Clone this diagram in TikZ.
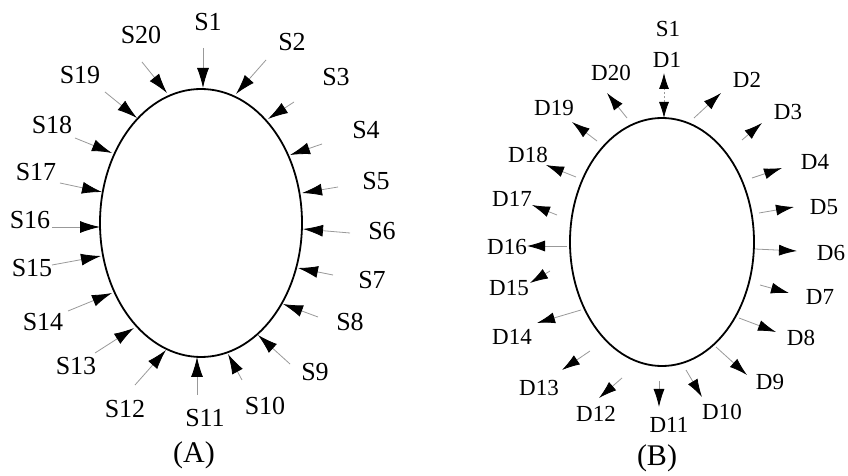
\documentclass[tikz,border=0pt]{standalone}
\usepackage{fontspec}
\setmainfont{Liberation Serif}
\usetikzlibrary{arrows.meta,shapes.geometric}
\begin{document}
\begin{tikzpicture}[x=0.5pt,y=-0.5pt,
  rim/.style={draw, ellipse, line width=0.9pt, inner sep=0pt},
  inA/.style={draw=black!40, line width=0.4pt, -{Latex[length=10pt,width=6pt,color=black]}},
  outB/.style={draw=black!40, line width=0.4pt, -{Latex[length=9pt,width=5.5pt,color=black]}},
  bothB/.style={draw=black!40, line width=0.4pt, dash pattern=on 1pt off 1pt,
    {Latex[length=8pt,width=5pt,color=black]}-{Latex[length=8pt,width=5pt,color=black]}},
  labA/.style={font=\fontsize{13}{15}\selectfont, inner sep=0pt},
  labB/.style={font=\fontsize{11.5}{13}\selectfont, inner sep=0pt},
  figcap/.style={font=\fontsize{15}{17}\selectfont, inner sep=0pt}]
\path[use as bounding box] (0,0) rectangle (848,476);

% ---------- (A): sources pointing inward ----------
\node[rim, minimum width=101pt, minimum height=134pt] (ringA) at (201,223) {};
\foreach \n/\lx/\ly/\sx/\sy/\tx/\ty in {
  1/208/22/203/48/203/88,
  2/292/42/266/60/236/94,
  3/336/77/294/102/268/119,
  4/366/130/322/144/290/155,
  5/376/181/338/187/302/193,
  6/382/231/350/233/303/229,
  7/372/280/333/275/298/268,
  8/350/322/318/317/283/304,
  9/315/372/290/364/258/335,
  10/265/406/242/380/228/354,
  11/205/418/197/395/197/357,
  12/125/409/135/385/166/350,
  13/76/366/95/353/134/328,
  14/43/322/68/311/112/293,
  15/32/268/52/265/101/256,
  16/30/220/52/227/100/227,
  17/36/172/60/183/102/192,
  18/52/125/75/138/112/153,
  19/80/75/105/92/137/118,
  20/141/35/142/62/167/93}{
  \node[labA] (lA\n) at (\lx,\ly) {S\n};
  \coordinate (sA\n) at (\sx,\sy);
  \coordinate (tA\n) at (\tx,\ty);
  \draw[inA] (sA\n) -- (tA\n);
}
\node[figcap] (capA) at (194,455) {(A)};

% ---------- (B): detectors pointing outward ----------
\node[rim, minimum width=92pt, minimum height=124pt] (ringB) at (662,242) {};
\node[labB] (lBs) at (668,29) {S1};
\node[labB] (lB1) at (667,60) {D1};
\coordinate (sB1) at (664,118);
\coordinate (tB1) at (664,73);
\draw[bothB] (sB1) -- (tB1);
\foreach \n/\lx/\ly/\sx/\sy/\tx/\ty in {
  2/747/80/694/118/721/93,
  3/788/112/742/140/762/123,
  4/815/162/752/178/782/168,
  5/824/207/759/213/794/207,
  6/831/253/755/249/797/251,
  7/820/297/760/285/789/293,
  8/801/338/739/318/776/332,
  9/770/382/716/347/747/375,
  10/722/412/686/370/702/397,
  11/669/425/659/381/659/407,
  12/596/414/622/378/599/398,
  13/539/388/590/351/562/370,
  14/512/337/581/310/537/323,
  15/509/288/550/271/530/283,
  16/507/247/567/246/527/246,
  17/512/199/557/215/532/205,
  18/528/155/576/177/546/165,
  19/554/108/597/141/572/122,
  20/611/73/627/118/607/93}{
  \node[labB] (lB\n) at (\lx,\ly) {D\n};
  \coordinate (sB\n) at (\sx,\sy);
  \coordinate (tB\n) at (\tx,\ty);
  \draw[outB] (sB\n) -- (tB\n);
}
\node[figcap] (capB) at (657,458) {(B)};
\end{tikzpicture}
\end{document}
